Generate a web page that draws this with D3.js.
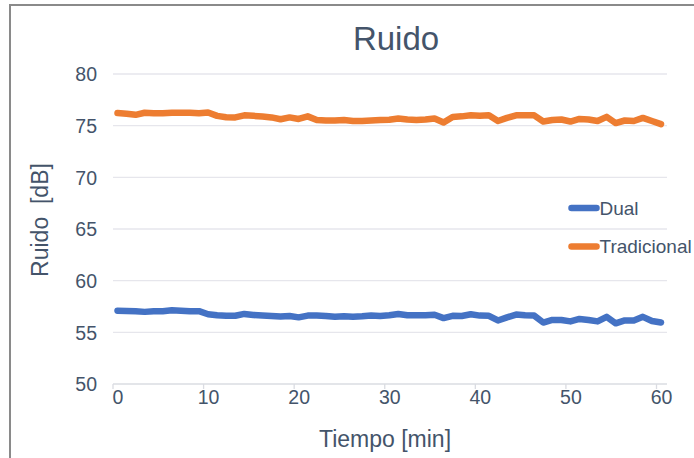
<!DOCTYPE html>
<html>
<head>
<meta charset="utf-8">
<script src="https://cdn.jsdelivr.net/npm/d3@7"></script>
<style>
  html, body { margin: 0; padding: 0; background: #fff; }
  svg { display: block; font-family: "Liberation Sans", Arial, sans-serif; }
</style>
</head>
<body>
<svg id="chart" width="694" height="458"></svg>
<script>
// Minutes sampled (one reading per minute)
const minutes = d3.range(0, 61);

// Noise level, dB — dual system
const dual = [
  57.10, 57.07, 57.05, 56.98, 57.05, 57.05, 57.13, 57.10, 57.05, 57.05,
  56.75, 56.65, 56.60, 56.60, 56.78, 56.68, 56.63, 56.58, 56.53, 56.58,
  56.45, 56.62, 56.62, 56.58, 56.50, 56.55, 56.50, 56.55, 56.62, 56.58,
  56.65, 56.77, 56.65, 56.65, 56.65, 56.70, 56.38, 56.60, 56.58, 56.75,
  56.62, 56.60, 56.15, 56.45, 56.72, 56.65, 56.62, 55.95, 56.20, 56.20,
  56.06, 56.30, 56.20, 56.06, 56.50, 55.87, 56.15, 56.15, 56.50, 56.10,
  55.95
];

// Noise level, dB — traditional system
const tradicional = [
  76.22, 76.15, 76.05, 76.25, 76.20, 76.20, 76.25, 76.25, 76.25, 76.20,
  76.28, 75.95, 75.82, 75.80, 76.00, 75.95, 75.88, 75.80, 75.62, 75.80,
  75.65, 75.90, 75.55, 75.50, 75.50, 75.55, 75.45, 75.45, 75.50, 75.55,
  75.58, 75.70, 75.60, 75.55, 75.60, 75.70, 75.30, 75.85, 75.90, 76.00,
  75.95, 76.00, 75.45, 75.75, 76.00, 76.00, 76.00, 75.40, 75.55, 75.60,
  75.40, 75.65, 75.60, 75.45, 75.85, 75.25, 75.50, 75.45, 75.75, 75.45,
  75.15
];

const yTicks = [50, 55, 60, 65, 70, 75, 80];
const xTicks = [0, 10, 20, 30, 40, 50, 60];

const series = [
  { name: "Dual", values: dual, color: "#4472C4" },
  { name: "Tradicional", values: tradicional, color: "#ED7D31" }
];

const textColor = "#44546A";
const svg = d3.select("#chart");

// Outer chart frame (only left and top edges fall inside the view)
svg.append("rect")
  .attr("x", 10).attr("y", 5)
  .attr("width", 720).attr("height", 480)
  .attr("fill", "none")
  .attr("stroke", "#8a8a8a")
  .attr("stroke-width", 2);

const plot = { left: 113, right: 667, top: 74, bottom: 384 };
const tickShift = -4.5;

const x = d3.scaleLinear().domain([0, 60]).range([117.5, 661]);
const y = d3.scaleLinear().domain([50, 80]).range([plot.bottom, plot.top]);

// Horizontal gridlines
svg.append("g")
  .selectAll("line")
  .data(yTicks.slice(1))
  .join("line")
  .attr("x1", plot.left).attr("x2", plot.right)
  .attr("y1", d => y(d)).attr("y2", d => y(d))
  .attr("stroke", "#E6E6EC")
  .attr("stroke-width", 1.3);

// Y axis labels
const yAxis = svg.append("g")
  .attr("transform", `translate(${plot.left - 16},0)`)
  .call(d3.axisLeft(y).tickValues(yTicks).tickSize(0).tickPadding(0));
yAxis.select(".domain").remove();
yAxis.selectAll("text")
  .attr("fill", textColor)
  .style("font-size", "19.5px")
  .attr("dy", "0.35em");

// X axis: baseline, tick marks and labels
const xAxis = svg.append("g")
  .attr("transform", `translate(0,${plot.bottom})`)
  .call(d3.axisBottom(x).tickValues(xTicks).tickSize(0).tickPadding(6));
xAxis.select(".domain").remove();
xAxis.selectAll("text")
  .attr("fill", textColor)
  .style("font-size", "19.5px")
  .attr("dy", "0.71em");

svg.append("line")
  .attr("x1", plot.left).attr("x2", plot.right)
  .attr("y1", plot.bottom).attr("y2", plot.bottom)
  .attr("stroke", "#DADCE2").attr("stroke-width", 1.3);

svg.append("g")
  .selectAll("line")
  .data(xTicks)
  .join("line")
  .attr("x1", d => x(d) + tickShift).attr("x2", d => x(d) + tickShift)
  .attr("y1", plot.bottom).attr("y2", plot.bottom + 5)
  .attr("stroke", "#DADCE2").attr("stroke-width", 1.3);

// Series lines
const line = d3.line()
  .x((d, i) => x(minutes[i]))
  .y(d => y(d));

svg.append("g")
  .selectAll("path")
  .data(series)
  .join("path")
  .attr("d", d => line(d.values))
  .attr("fill", "none")
  .attr("stroke", d => d.color)
  .attr("stroke-width", 6.5)
  .attr("stroke-linecap", "round")
  .attr("stroke-linejoin", "round");

// Legend
const legend = svg.append("g")
  .selectAll("g")
  .data(series)
  .join("g")
  .attr("transform", (d, i) => `translate(570,${208 + i * 38.5})`);
legend.append("line")
  .attr("x1", 1.5).attr("x2", 26.5)
  .attr("stroke", d => d.color)
  .attr("stroke-width", 6.5)
  .attr("stroke-linecap", "round");
legend.append("text")
  .attr("x", 29.5)
  .attr("dy", "0.36em")
  .attr("fill", textColor)
  .style("font-size", "19px")
  .text(d => d.name);

// Titles
svg.append("text")
  .attr("x", 396).attr("y", 50)
  .attr("text-anchor", "middle")
  .attr("fill", textColor)
  .style("font-size", "33px")
  .text("Ruido");

svg.append("text")
  .attr("x", 385).attr("y", 447)
  .attr("text-anchor", "middle")
  .attr("fill", textColor)
  .style("font-size", "23px")
  .text("Tiempo [min]");

svg.append("text")
  .attr("transform", "translate(48,220) rotate(-90)")
  .attr("text-anchor", "middle")
  .attr("fill", textColor)
  .style("font-size", "23px")
  .style("white-space", "pre")
  .text("Ruido  [dB]");
</script>
</body>
</html>
